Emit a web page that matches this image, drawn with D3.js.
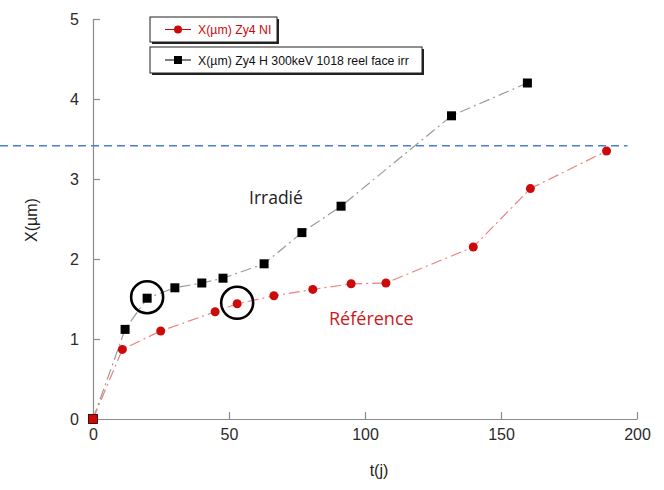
<!DOCTYPE html>
<html><head><meta charset="utf-8">
<script src="https://cdn.jsdelivr.net/npm/d3@7"></script>
<style>body{margin:0;background:#fff}svg{display:block}</style>
</head><body>
<svg id="c" width="664" height="490"></svg>
<script>
const irrT = [0, 11.8, 19.9, 30.1, 40, 47.8, 62.9, 76.8, 91.2, 131.8, 159.7];
const irrX = [0, 1.12, 1.51, 1.64, 1.70, 1.76, 1.94, 2.33, 2.66, 3.79, 4.20];
const refT = [0, 10.8, 24.9, 44.9, 53, 66.5, 80.8, 94.9, 107.7, 139.8, 160.8, 188.8];
const refX = [0, 0.87, 1.10, 1.34, 1.44, 1.54, 1.62, 1.69, 1.70, 2.15, 2.88, 3.35];
const xTicks = [0, 50, 100, 150, 200];
const yTicks = [0, 1, 2, 3, 4, 5];
const limitX = 3.415;
const circled = [{t: 19.9, x: 1.51}, {t: 53, x: 1.44}];
const legendLabels = ["X(µm) Zy4 NI", "X(µm) Zy4 H 300keV 1018 reel face irr"];

const svg = d3.select("#c");
const x = d3.scaleLinear().domain([0, 200]).range([93, 637]);
const y = d3.scaleLinear().domain([0, 5]).range([419, 19]);
const font = "Liberation Sans, Arial, sans-serif";

// axes
const xa = svg.append("g").attr("transform", "translate(0,419)")
  .call(d3.axisBottom(x).tickValues(xTicks).tickFormat(d3.format("d")).tickSize(-7).tickPadding(10).tickSizeOuter(0));
const ya = svg.append("g").attr("transform", "translate(93,0)")
  .call(d3.axisLeft(y).tickValues(yTicks).tickFormat(d3.format("d")).tickSize(-7).tickPadding(14).tickSizeOuter(0));
[xa, ya].forEach(a => {
  a.selectAll("path,line").attr("stroke", "#8c8c8c").attr("stroke-width", 1.2);
  a.selectAll("text").attr("font-family", font).attr("font-size", 16).attr("fill", "#2a2a2a");
});

// limit line
svg.append("line").attr("x1", 0).attr("x2", x(196.5)).attr("y1", y(limitX)).attr("y2", y(limitX))
  .attr("stroke", "#4a7fcf").attr("stroke-width", 1.6).attr("stroke-dasharray", "8,5");

const line = d3.line().x(d => x(d[0])).y(d => y(d[1]));
const irr = irrT.map((t, i) => [t, irrX[i]]);
const ref = refT.map((t, i) => [t, refX[i]]);

svg.append("path").datum(irr).attr("d", line).attr("fill", "none")
  .attr("stroke", "#9a9a9a").attr("stroke-width", 1.2).attr("stroke-dasharray", "11,4,2,4");
svg.append("path").datum(ref).attr("d", line).attr("fill", "none")
  .attr("stroke", "#ee8080").attr("stroke-width", 1.2).attr("stroke-dasharray", "11,4,2,4");

svg.selectAll("rect.irr").data(irr).enter().append("rect")
  .attr("x", d => x(d[0]) - 4.5).attr("y", d => y(d[1]) - 4.5)
  .attr("width", 9).attr("height", 9).attr("fill", "#000");
svg.selectAll("circle.ref").data(ref).enter().append("circle")
  .attr("cx", d => x(d[0])).attr("cy", d => y(d[1])).attr("r", 4.5).attr("fill", "#cc0a0a");
svg.append("rect").attr("x", x(0) - 4.5).attr("y", y(0) - 4.5).attr("width", 9).attr("height", 9)
  .attr("fill", "#cc0a0a").attr("stroke", "#300").attr("stroke-width", 0.8);

// annotation circles
svg.selectAll("circle.ann").data(circled).enter().append("circle")
  .attr("cx", d => x(d.t)).attr("cy", d => y(d.x) - 1).attr("r", 16)
  .attr("fill", "none").attr("stroke", "#000").attr("stroke-width", 2.6);

// labels
svg.append("text").attr("x", 249).attr("y", 204).text("Irradié")
  .attr("font-family", "Open Sans, sans-serif").attr("font-size", 17.5).attr("fill", "#222");
svg.append("text").attr("x", 329).attr("y", 325).text("Référence")
  .attr("font-family", "Open Sans, sans-serif").attr("font-size", 18).attr("fill", "#cc1a1a");

svg.append("text").attr("transform", "translate(37,220) rotate(-90)").attr("text-anchor", "middle")
  .text("X(µm)").attr("font-family", font).attr("font-size", 16).attr("fill", "#222");
svg.append("text").attr("x", 379).attr("y", 476).attr("text-anchor", "middle")
  .text("t(j)").attr("font-family", font).attr("font-size", 16).attr("fill", "#222");

// legend
const leg = [
  {x: 150, y: 17, w: 127, h: 25, color: "#cc0a0a", shape: "circle", label: legendLabels[0]},
  {x: 150, y: 47, w: 272, h: 26, color: "#000", shape: "rect", label: legendLabels[1]}
];
const defs = svg.append("defs");
leg.forEach((l, i) => {
  defs.append("clipPath").attr("id", "lc" + i).append("rect")
    .attr("x", l.x).attr("y", l.y).attr("width", l.w - 5).attr("height", l.h);
  svg.append("rect").attr("x", l.x + 2).attr("y", l.y + 2).attr("width", l.w).attr("height", l.h).attr("fill", "#222");
  svg.append("rect").attr("x", l.x).attr("y", l.y).attr("width", l.w).attr("height", l.h)
    .attr("fill", "#fff").attr("stroke", "#222").attr("stroke-width", 1);
  const cy = l.y + l.h / 2;
  svg.append("line").attr("x1", l.x + 15).attr("x2", l.x + 41).attr("y1", cy).attr("y2", cy)
    .attr("stroke", l.color).attr("stroke-width", 1);
  if (l.shape === "circle")
    svg.append("circle").attr("cx", l.x + 28).attr("cy", cy).attr("r", 4).attr("fill", l.color);
  else
    svg.append("rect").attr("x", l.x + 24).attr("y", cy - 4).attr("width", 8).attr("height", 8).attr("fill", l.color);
  svg.append("text").attr("x", l.x + 48).attr("y", cy + 4.5).text(l.label)
    .attr("clip-path", "url(#lc" + i + ")")
    .attr("font-family", font).attr("font-size", 12.3).attr("fill", l.color === "#000" ? "#111" : l.color);
});
</script>
</body></html>
